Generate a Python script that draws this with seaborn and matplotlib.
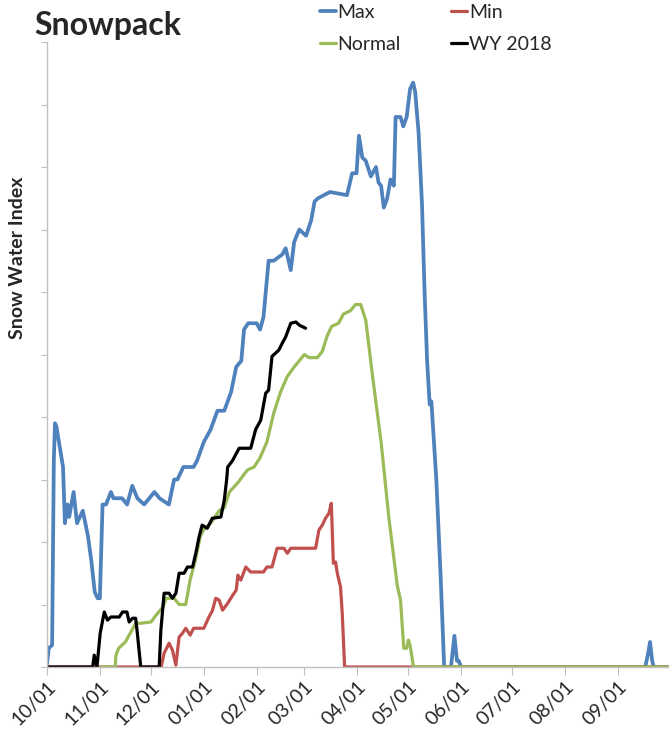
import pandas as pd
import matplotlib
matplotlib.use('Agg')
import matplotlib.pyplot as plt
import matplotlib.dates as mdates
import seaborn as sns

# Water year day offsets (from Oct 1) and snow water index values
max_days = [0, 1, 3, 4, 4.7, 5.5, 7, 9.4, 10.5, 12, 13, 15.6, 17.6, 21, 24, 26, 28, 29.7, 31,
            32.6, 34.6, 37.5, 39, 44, 47, 50, 53, 57, 63, 66, 71.5, 74.6, 76.5, 80, 86, 88,
            92, 96, 100, 104, 108, 111, 114, 115.6, 118, 123, 125, 127, 130, 133, 138, 140,
            143, 145, 148, 152, 155, 157, 159, 166, 176, 179, 181.6, 183, 185, 187, 190, 193,
            194.5, 196, 197.6, 199.6, 201.5, 203.5, 204.5, 207.4, 209, 211, 213, 214.8, 216,
            218, 220, 221.5, 223, 224.5, 225.5, 228.4, 231, 233, 237, 239, 240.5, 241.5, 243,
            351, 352.5, 353.8, 355, 356, 365]
max_vals = [0.05, 0.3, 0.35, 3.3, 3.9, 3.85, 3.6, 3.2, 2.3, 2.6, 2.4, 2.8, 2.3, 2.5, 2.1, 1.7, 1.2, 1.1, 1.1,
            2.6, 2.6, 2.8, 2.7, 2.7, 2.6, 2.9, 2.7, 2.6, 2.8, 2.7, 2.6, 3.0, 3.0, 3.2, 3.2, 3.3,
            3.6, 3.8, 4.1, 4.1, 4.4, 4.8, 4.9, 5.4, 5.5, 5.5, 5.4, 5.6, 6.5, 6.5, 6.6, 6.7,
            6.35, 6.8, 7.0, 6.9, 7.15, 7.45, 7.5, 7.6, 7.55, 7.9, 7.9, 8.5, 8.15, 8.1, 7.85, 8.0,
            7.75, 7.7, 7.35, 7.5, 7.8, 7.7, 8.8, 8.8, 8.65, 8.8, 9.25, 9.35, 9.2,
            8.55, 7.4, 6.0, 4.9, 4.2, 4.25, 3.0, 1.4, 0.0, 0.0, 0.5, 0.1, 0.1, 0.0,
            0.0, 0.2, 0.4, 0.1, 0.0, 0.0]

min_days = [0, 67, 68.7, 71.6, 73.6, 75.6, 77.5, 79.5, 81.4, 84, 86, 92, 95, 97, 99, 101, 103,
            106, 109, 111, 112, 113.7, 116.6, 119.5, 127, 129, 132, 135, 139, 141, 143, 157.6,
            159.5, 161.5, 163.4, 165.4, 166.8, 168, 169.3, 170.3, 172.2, 173.2, 174.6, 365]
min_vals = [0.0, 0.0, 0.22, 0.38, 0.27, 0.03, 0.48, 0.54, 0.62, 0.51, 0.62, 0.62, 0.8, 0.9, 1.1, 1.07, 0.91,
            1.02, 1.15, 1.23, 1.47, 1.39, 1.6, 1.52, 1.52, 1.6, 1.6, 1.9, 1.9, 1.82, 1.9, 1.9,
            2.19, 2.27, 2.38, 2.46, 2.62, 1.66, 1.68, 1.5, 1.28, 0.86, 0.0, 0.0]

normal_days = [31.6, 40, 40.4, 42, 46, 48, 52, 55, 61, 64, 68, 70, 74.6, 77.5, 81.4, 84, 87, 90,
               92, 96, 101, 104, 107, 112, 117.5, 121.5, 125, 129, 133, 137, 141, 145, 148, 151,
               153.7, 158.6, 161.5, 164.4, 167, 171, 174, 178, 181, 184, 187, 191, 196, 200.5,
               205.5, 207.4, 209.3, 211, 212, 213, 215, 365]
normal_vals = [0.0, 0.0, 0.18, 0.3, 0.4, 0.5, 0.7, 0.7, 0.72, 0.83, 0.96, 1.1, 1.1, 1.0, 1.0, 1.4, 1.7, 2.1,
               2.2, 2.3, 2.5, 2.55, 2.8, 2.95, 3.15, 3.2, 3.35, 3.6, 4.06, 4.4, 4.65, 4.8, 4.9, 5.0,
               4.95, 4.95, 5.05, 5.3, 5.45, 5.5, 5.65, 5.7, 5.8, 5.8, 5.55, 4.65, 3.6, 2.4,
               1.3, 1.07, 0.3, 0.3, 0.43, 0.35, 0.0, 0.0]

wy_days = [0, 26.8, 27.7, 29.3, 31.2, 33.6, 35.5, 37.5, 42.4, 44.3, 46.9, 48.2, 50.2, 52, 53, 55,
           65.8, 66.8, 68.7, 71.6, 73.6, 75.6, 77.5, 80.4, 82.4, 85.4, 87.3, 89.2, 91, 94, 97,
           102, 104, 105.4, 106, 108.8, 112.7, 119.5, 122.4, 125.4, 128.3, 130, 132, 134, 136,
           138, 140, 143, 146, 148, 151.7]
wy_vals = [0.0, 0.0, 0.19, 0.0, 0.54, 0.88, 0.75, 0.8, 0.8, 0.88, 0.88, 0.72, 0.78, 0.78, 0.54, 0.0,
           0.0, 0.59, 1.18, 1.18, 1.1, 1.18, 1.5, 1.5, 1.6, 1.6, 1.82, 2.08, 2.27, 2.22, 2.38,
           2.4, 2.67, 3.0, 3.2, 3.3, 3.5, 3.5, 3.8, 3.95, 4.38, 4.43, 4.97, 5.02, 5.07,
           5.18, 5.28, 5.5, 5.52, 5.47, 5.42]

series = ['Max', 'Min', 'Normal', 'WY 2018']
colors = ['#4F81BD', '#C0504D', '#9BBB59', '#000000']
widths = [2.7, 2.3, 2.3, 2.3]
start = pd.Timestamp('2017-10-01')

frames = []
for name, d, v in zip(series, [max_days, min_days, normal_days, wy_days],
                      [max_vals, min_vals, normal_vals, wy_vals]):
    frames.append(pd.DataFrame({'Date': start + pd.to_timedelta(d, unit='D'),
                                'Index': v, 'Series': name}))
df = pd.concat(frames, ignore_index=True)

sns.set_style('white')
plt.rcParams['font.family'] = ['Lato', 'DejaVu Sans']

fig = plt.figure(figsize=(6.69, 7.36), dpi=100)
ax = fig.add_axes([47 / 669, 69 / 736, 622 / 669, 625 / 736])

for name, c, lw in zip(series, colors, widths):
    sns.lineplot(data=df[df['Series'] == name], x='Date', y='Index', color=c, linewidth=lw,
                 estimator=None, sort=False, label=name, ax=ax)

ax.set_xlim(start, start + pd.Timedelta(days=364.9))
ax.set_ylim(0, 10)
ax.xaxis.set_major_locator(mdates.MonthLocator())
ax.xaxis.set_major_formatter(mdates.DateFormatter('%m/%d'))
ax.set_yticks(range(0, 11))
ax.set_yticklabels([])
ax.tick_params(axis='x', length=6, color='#BFBFBF', labelsize=14, pad=2, bottom=True)
ax.tick_params(axis='y', length=4, color='#BFBFBF', left=True)
for lab in ax.get_xticklabels():
    lab.set_rotation(45)
    lab.set_ha('right')
    lab.set_rotation_mode('anchor')

for s in ['top', 'right']:
    ax.spines[s].set_visible(False)
for s in ['left', 'bottom']:
    ax.spines[s].set_color('#BFBFBF')
    ax.spines[s].set_linewidth(1)

ax.set_xlabel('')
ax.set_ylabel('Snow Water Index', fontsize=14, fontweight='bold')
ax.yaxis.set_label_coords(-0.033, 0.654)

fig.text(34 / 669, 1 - 25 / 736, 'Snowpack', fontsize=23, fontweight='bold', va='center')

handles, labels = ax.get_legend_handles_labels()
order = [0, 2, 1, 3]
ax.legend([handles[i] for i in order], [labels[i] for i in order], ncol=2,
          loc='upper left', bbox_to_anchor=(318 / 669, 1 - 2 / 736), bbox_transform=fig.transFigure,
          frameon=False, fontsize=14, handlelength=0.8, handletextpad=0.1,
          columnspacing=2.6, labelspacing=0.75, borderaxespad=0, borderpad=0.1)

fig.savefig('out.png', dpi=100)
